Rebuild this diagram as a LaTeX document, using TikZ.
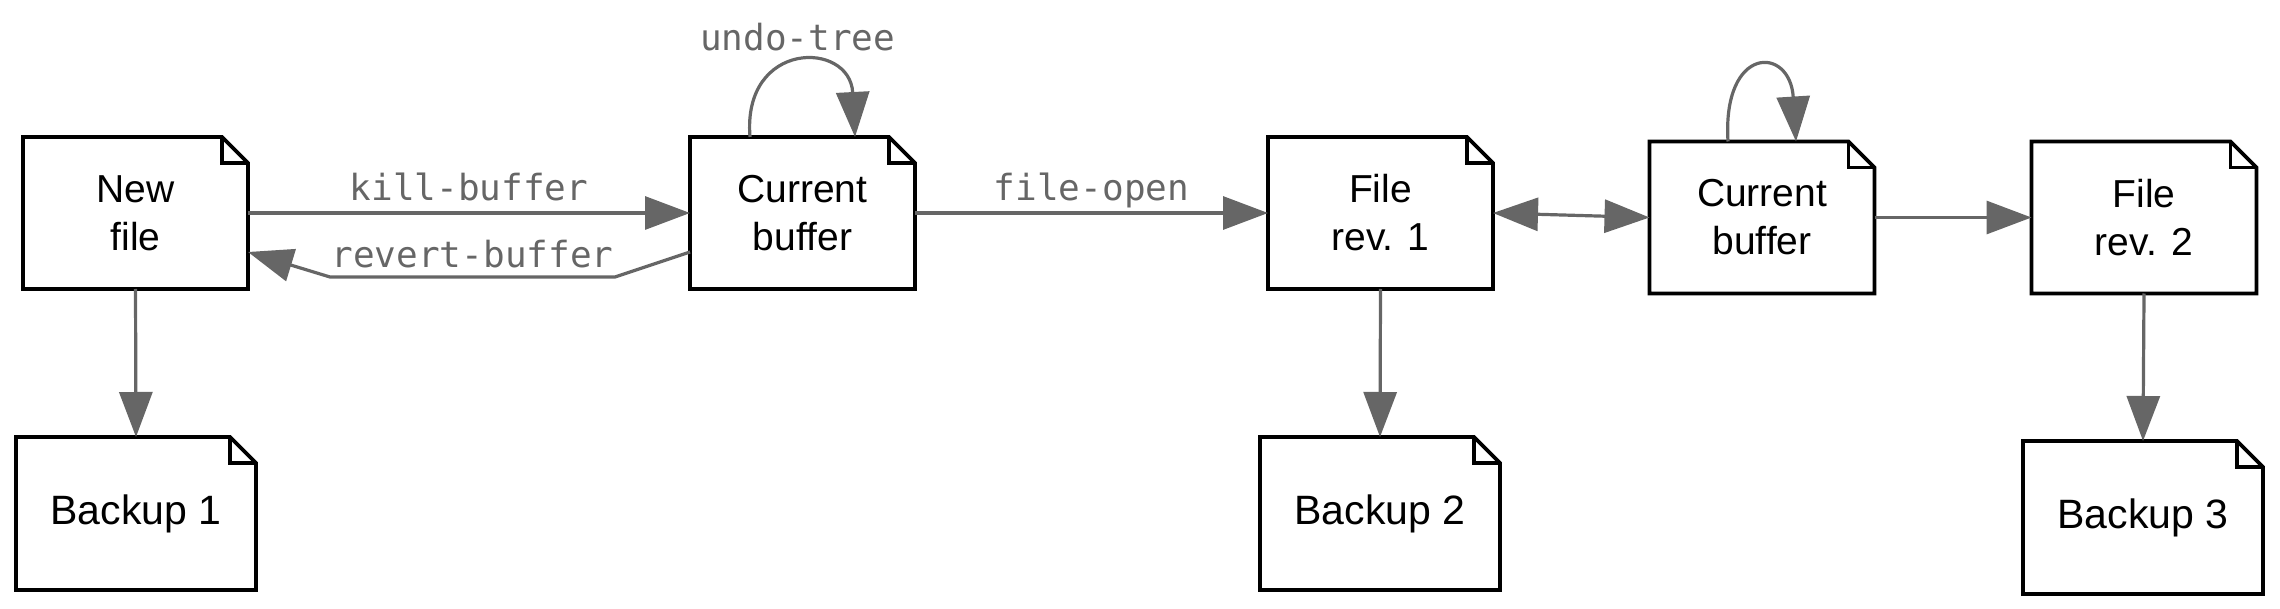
\documentclass[tikz,border=0pt]{standalone}
\usepackage{fontspec}
\setmainfont{Liberation Sans}
\newfontfamily\lblfont{DejaVu Sans Mono}
\usetikzlibrary{arrows.meta}
\definecolor{edgegray}{HTML}{666666}
\tikzset{
  docnode/.style={inner sep=0pt, outer sep=0pt, minimum width=112.5pt, minimum height=76pt,
    align=center, font=\fontsize{19.5}{24}\selectfont},
  backupnode/.style={docnode, minimum width=120pt, minimum height=76.5pt, font=\fontsize{20.5}{24}\selectfont},
  docline/.style={draw=black, line width=1.8pt, line join=miter},
  earline/.style={draw=black, line width=1.6pt},
  conn/.style={draw=edgegray, line width=1.6pt, -{Triangle[length=22.5pt,width=16.5pt]}},
  biconn/.style={draw=edgegray, line width=1.6pt, {Triangle[length=22.5pt,width=16.5pt]}-{Triangle[length=22.5pt,width=16.5pt]}},
  lbl/.style={text=edgegray, font=\lblfont\fontsize{18}{20}\selectfont, inner sep=0pt, anchor=base}
}
\begin{document}
\begin{tikzpicture}[x=0.5pt,y=-0.5pt]
\useasboundingbox (0,0) rectangle (2280,609);
% document nodes
\node[docnode] (newfile) at (135.5,213) {New\\file};
\node[docnode] (cb1) at (802.5,213) {Current\\buffer};
\node[docnode] (rev1) at (1380.5,213) {File\\rev. 1};
\node[docnode] (cb2) at (1762,217.5) {Current\\buffer};
\node[docnode] (rev2) at (2144,217.5) {File\\rev. 2};
\node[backupnode] (b1) at (136,513.5) {Backup 1};
\node[backupnode] (b2) at (1380,513.5) {Backup 2};
\node[backupnode] (b3) at (2143,517.5) {Backup 3};
% dog-eared outlines
\foreach \n in {newfile,cb1,rev1,cb2,rev2,b1,b2,b3}{
  \draw[docline] (\n.north west) -- ([xshift=-13pt]\n.north east)
    -- ([yshift=-13pt]\n.north east) -- (\n.south east) -- (\n.south west) -- cycle;
  \draw[earline] ([xshift=-13pt]\n.north east) -- ([xshift=-13pt,yshift=-13pt]\n.north east)
    -- ([yshift=-13pt]\n.north east);
}
% connectors
\draw[conn] (newfile) -- node[lbl, midway, yshift=6pt] {kill-buffer} (cb1);
\draw[conn] ([yshift=-19.5pt]cb1.west) -- ++(-75,25)
  -- node[lbl, midway, yshift=4.5pt] {revert-buffer} ++(-285,0)
  -- ([yshift=-19.5pt]newfile.east);
\draw[conn] (cb1) -- node[lbl, midway, yshift=6pt] {file-open} (rev1);
\draw[conn] ([xshift=-26.25pt]cb1.north) .. controls (742,40) and (850,40) ..
  node[lbl, pos=0.5, yshift=7pt] {undo-tree} ([xshift=26.25pt]cb1.north);
\draw[biconn] (rev1.east) -- (cb2.west);
\draw[conn] ([xshift=-17pt]cb2.north) .. controls (1722,45) and (1790,45) .. ([xshift=17pt]cb2.north);
\draw[conn] (cb2.east) -- (rev2.west);
\draw[conn] (newfile.south) -- (b1.north);
\draw[conn] (rev1.south) -- (b2.north);
\draw[conn] (rev2.south) -- (b3.north);
\end{tikzpicture}
\end{document}
